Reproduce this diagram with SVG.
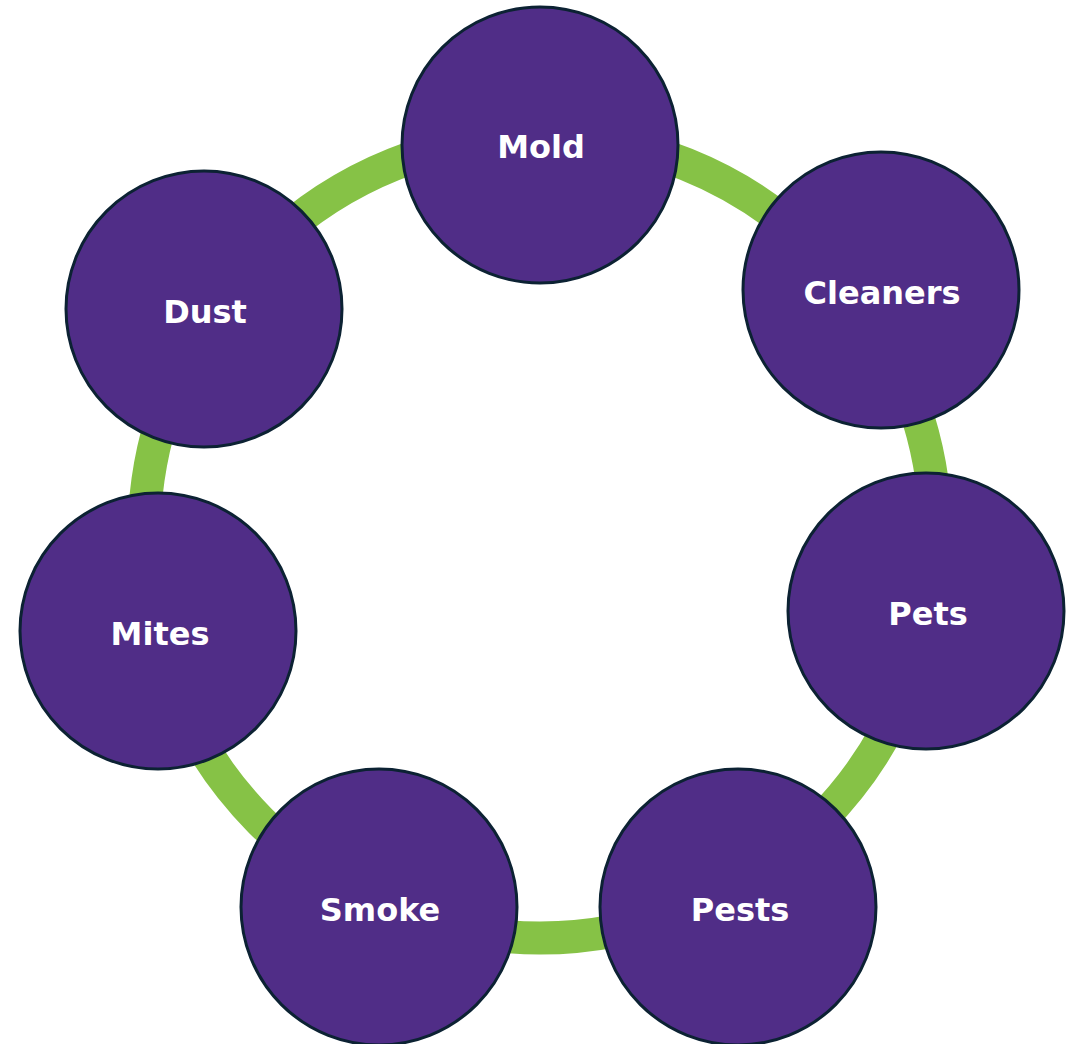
<svg xmlns="http://www.w3.org/2000/svg" width="1076" height="1044" viewBox="0 0 1076 1044">
<style>
.node{fill:#502d87;stroke:#0c2233;stroke-width:3}
.lbl{fill:#ffffff;font-family:"DejaVu Sans",Verdana,sans-serif;font-weight:bold;font-size:32px;text-anchor:middle}
.ring{fill:none;stroke:#86c246;stroke-width:33}
</style>
<rect width="1076" height="1044" fill="#ffffff"/>
<g id="connectors">
<ellipse class="ring" cx="540" cy="537" rx="396" ry="401"/>
</g>
<g id="node-mold"><circle class="node" cx="540" cy="145" r="138"/><text class="lbl" x="541" y="158">Mold</text></g>
<g id="node-cleaners"><circle class="node" cx="881" cy="290" r="138"/><text class="lbl" x="882" y="304">Cleaners</text></g>
<g id="node-pets"><circle class="node" cx="926" cy="611" r="138"/><text class="lbl" x="928" y="625">Pets</text></g>
<g id="node-pests"><circle class="node" cx="738" cy="907" r="138"/><text class="lbl" x="740" y="921">Pests</text></g>
<g id="node-smoke"><circle class="node" cx="379" cy="907" r="138"/><text class="lbl" x="380" y="921">Smoke</text></g>
<g id="node-mites"><circle class="node" cx="158" cy="631" r="138"/><text class="lbl" x="160" y="645">Mites</text></g>
<g id="node-dust"><circle class="node" cx="204" cy="309" r="138"/><text class="lbl" x="205" y="323">Dust</text></g>
</svg>
